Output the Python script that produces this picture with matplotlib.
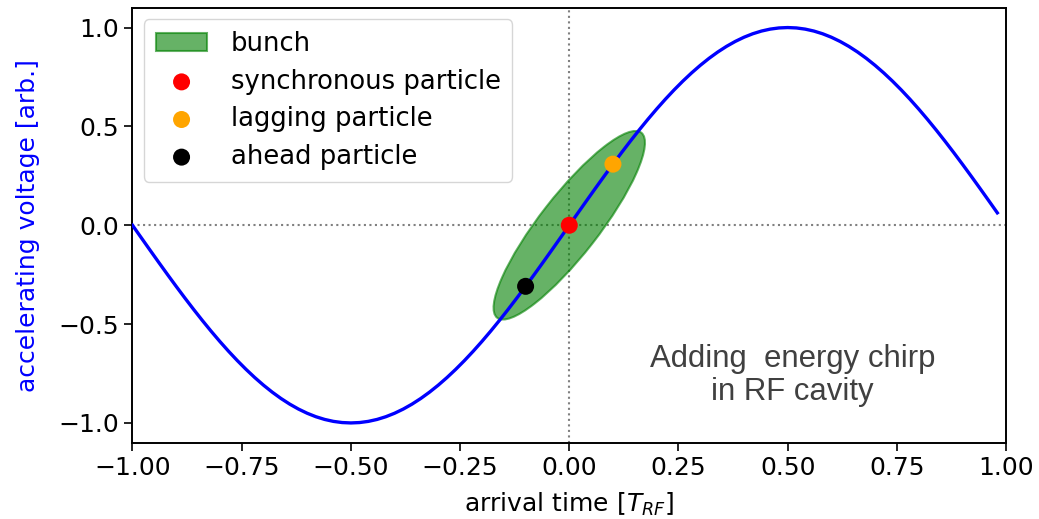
import numpy as np
import matplotlib
matplotlib.use("Agg")
import matplotlib.pyplot as plt
from matplotlib.patches import Ellipse
from matplotlib.transforms import Affine2D

# RF voltage sampled over one period (in units of T_RF)
t_start, t_stop, t_step = -1.0, 1.0, 0.02

# particles: arrival time and label/colour
particle_times = [0.0, 0.1, -0.1]
particle_labels = ["synchronous particle", "lagging particle", "ahead particle"]
particle_colors = ["red", "orange", "black"]

# bunch ellipse: centre and semi-axis vectors (data units)
bunch_center = (0.0, 0.0)
bunch_major = (0.165, 0.468)
bunch_minor = (-0.053, 0.092)

note_text = "Adding  energy chirp\nin RF cavity"

plt.rcParams["font.size"] = 18

fig = plt.figure(figsize=(10.39, 5.19), dpi=100)
ax = fig.add_axes([0.1275, 0.147, 0.8408, 0.838])

t = np.arange(t_start, t_stop, t_step)
v = np.sin(np.pi * t)

ax.axhline(0, color="gray", linestyle=":", linewidth=1.5, zorder=1)
ax.axvline(0, color="gray", linestyle=":", linewidth=1.5, zorder=1)

tr = Affine2D().from_values(bunch_major[0], bunch_major[1],
                            bunch_minor[0], bunch_minor[1],
                            bunch_center[0], bunch_center[1])
bunch = Ellipse((0, 0), 2, 2, facecolor="green", edgecolor="green",
                alpha=0.6, linewidth=1.5, label="bunch", zorder=2,
                transform=tr + ax.transData)
ax.add_patch(bunch)

ax.plot(t, v, color="blue", linewidth=2.4, zorder=3)

for tp, lab, col in zip(particle_times, particle_labels, particle_colors):
    ax.scatter([tp], [np.sin(np.pi * tp)], s=150, color=col, label=lab,
               zorder=4, edgecolors="none")

ax.set_xlim(-1, 1)
ax.set_ylim(-1.1, 1.1)
ax.set_xticks(np.arange(-1, 1.01, 0.25))
ax.set_yticks([-1.0, -0.5, 0.0, 0.5, 1.0])
ax.tick_params(labelsize=18, length=6, width=1.2)
for s in ax.spines.values():
    s.set_linewidth(1.4)

ax.set_xlabel(r"arrival time [$T_{RF}$]", fontsize=18, labelpad=8)
ax.set_ylabel("accelerating voltage [arb.]", color="blue", fontsize=18,
              labelpad=13)

ax.legend(loc="upper left", fontsize=18.6, labelspacing=0.45,
          handletextpad=0.9, borderaxespad=0.45, borderpad=0.45)

ax.text(0.511, -0.76, note_text, ha="center", va="center", color="#404040",
        fontsize=22.4, family="Liberation Sans", linespacing=1.12)

fig.savefig("out.png", dpi=100)
